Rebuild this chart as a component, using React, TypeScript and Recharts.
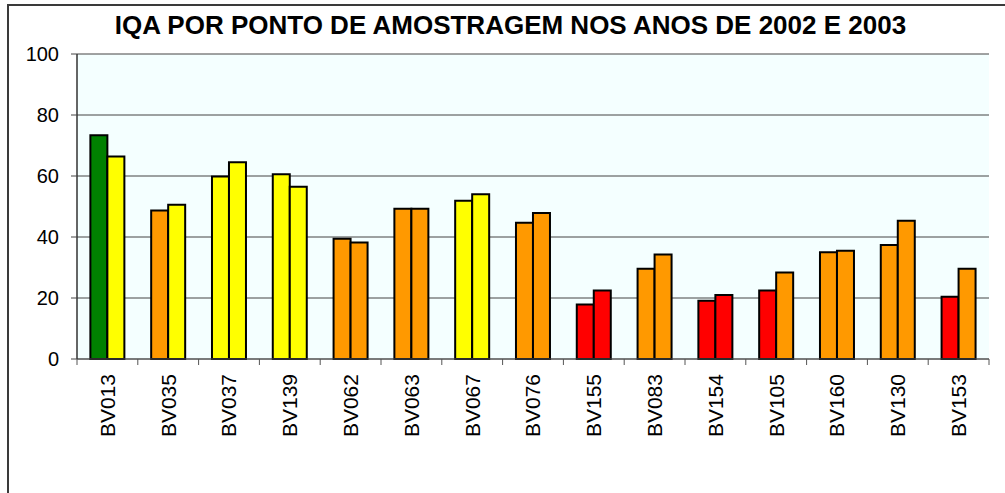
import { BarChart, Bar, Cell, XAxis, YAxis, CartesianGrid } from "recharts";

const categories = ["BV013", "BV035", "BV037", "BV139", "BV062", "BV063", "BV067", "BV076", "BV155", "BV083", "BV154", "BV105", "BV160", "BV130", "BV153"];
const iqa2002 = [73.4, 48.7, 59.8, 60.6, 39.4, 49.3, 51.9, 44.7, 17.9, 29.6, 19.1, 22.5, 35.0, 37.4, 20.4];
const iqa2003 = [66.4, 50.6, 64.5, 56.5, 38.2, 49.3, 54.0, 47.9, 22.5, 34.3, 21.0, 28.4, 35.5, 45.3, 29.6];
const colors2002 = ["#008000", "#FF9900", "#FFFF00", "#FFFF00", "#FF9900", "#FF9900", "#FFFF00", "#FF9900", "#FF0000", "#FF9900", "#FF0000", "#FF0000", "#FF9900", "#FF9900", "#FF0000"];
const colors2003 = ["#FFFF00", "#FFFF00", "#FFFF00", "#FFFF00", "#FF9900", "#FF9900", "#FFFF00", "#FF9900", "#FF0000", "#FF9900", "#FF0000", "#FF9900", "#FF9900", "#FF9900", "#FF9900"];
const yTicks = [0, 20, 40, 60, 80, 100];
const title = "IQA POR PONTO DE AMOSTRAGEM NOS ANOS DE 2002 E 2003";

const data = categories.map((name, i) => ({ name, a2002: iqa2002[i], a2003: iqa2003[i] }));

const FONT = "'Liberation Sans', Arial, sans-serif";
const PLOT_LEFT = 77;
const PLOT_RIGHT = 989;
const STEP = (PLOT_RIGHT - PLOT_LEFT) / categories.length;

// ticks sit between categories, labels are vertical
function XTick(props: any) {
  const { x, y, payload, index } = props;
  const axisY = y - 6;
  const left = x - STEP / 2;
  return (
    <g>
      <line x1={left} y1={axisY} x2={left} y2={axisY + 6} stroke="#555" />
      {index === categories.length - 1 && (
        <line x1={x + STEP / 2} y1={axisY} x2={x + STEP / 2} y2={axisY + 6} stroke="#555" />
      )}
      <text
        x={x}
        y={axisY + 15}
        transform={`rotate(-90, ${x}, ${axisY + 15})`}
        textAnchor="end"
        dy="0.35em"
        fontSize={21}
        fontFamily={FONT}
        fill="#000"
      >
        {payload.value}
      </text>
    </g>
  );
}

export default function App() {
  return (
    <div style={{ position: "absolute", left: 0, top: 0, width: 1005, height: 493, overflow: "hidden", background: "#fff" }}>
      <div
        style={{
          position: "absolute",
          left: 7,
          top: 4,
          width: 1100,
          height: 600,
          border: "2px solid #3a3a3a",
        }}
      />
      <div
        style={{
          position: "absolute",
          left: 0,
          width: 1021,
          top: 10,
          textAlign: "center",
          fontFamily: FONT,
          fontWeight: "bold",
          fontSize: 26,
          lineHeight: "30px",
          color: "#000",
        }}
      >
        {title}
      </div>
      <div style={{ position: "absolute", left: 0, top: 0 }}>
        <BarChart
          width={1005}
          height={493}
          data={data}
          margin={{ top: 54, right: 1005 - PLOT_RIGHT, left: PLOT_LEFT - 60, bottom: 0 }}
          barCategoryGap="22%"
          barGap={0}
        >
          <CartesianGrid vertical={false} stroke="#444" fill="#F4FFFF" fillOpacity={1} />
          <XAxis
            dataKey="name"
            height={134}
            interval={0}
            tickSize={6}
            tickMargin={0}
            tickLine={false}
            tick={<XTick />}
            axisLine={{ stroke: "#555" }}
          />
          <YAxis
            width={60}
            domain={[0, 100]}
            ticks={yTicks}
            interval={0}
            tickSize={6}
            tickMargin={12}
            tickLine={{ stroke: "#444" }}
            axisLine={{ stroke: "#333", strokeWidth: 1.5 }}
            tick={{ fontSize: 20, fontFamily: FONT, fill: "#000" }}
          />
          <YAxis
            yAxisId="r"
            orientation="right"
            width={0}
            tick={false}
            tickLine={false}
            axisLine={{ stroke: "#808080" }}
          />
          <Bar dataKey="a2002" stroke="#000" strokeWidth={2} isAnimationActive={false}>
            {data.map((_, i) => (
              <Cell key={i} fill={colors2002[i]} />
            ))}
          </Bar>
          <Bar dataKey="a2003" stroke="#000" strokeWidth={2} isAnimationActive={false}>
            {data.map((_, i) => (
              <Cell key={i} fill={colors2003[i]} />
            ))}
          </Bar>
        </BarChart>
      </div>
    </div>
  );
}
